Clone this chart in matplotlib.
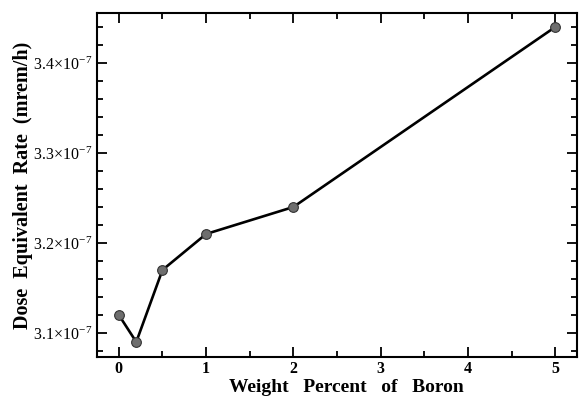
import matplotlib
matplotlib.use("Agg")
import matplotlib.pyplot as plt
from matplotlib.ticker import FixedLocator, MultipleLocator, FuncFormatter

plt.rcParams["font.family"] = "Liberation Serif"
plt.rcParams["mathtext.fontset"] = "custom"
plt.rcParams["mathtext.rm"] = "Liberation Serif"
plt.rcParams["mathtext.it"] = "Liberation Serif:italic"
plt.rcParams["mathtext.bf"] = "Liberation Serif:bold"

boron_pct = [0, 0.2, 0.5, 1, 2, 5]
dose_rate = [3.12e-7, 3.09e-7, 3.17e-7, 3.21e-7, 3.24e-7, 3.44e-7]
y_ticks = [3.1e-7, 3.2e-7, 3.3e-7, 3.4e-7]


def sci_label(v, pos):
    return r"$%.1f\!\times\!10^{-7}$" % (v / 1e-7)


fig = plt.figure(figsize=(5.8, 4.03), dpi=100, facecolor="white")
ax = fig.add_axes([97 / 580, 46 / 403, 480 / 580, 344 / 403])

ax.plot(boron_pct, dose_rate, color="black", lw=1.9, marker="o", ms=7,
        mfc="#6e6e6e", mec="#333333", mew=0.8)

ax.set_xlim(-0.25, 5.25)
ax.set_ylim(3.0733e-7, 3.4556e-7)

ax.xaxis.set_major_locator(MultipleLocator(1))
ax.xaxis.set_minor_locator(MultipleLocator(0.5))
ax.yaxis.set_major_locator(FixedLocator(y_ticks))
ax.yaxis.set_minor_locator(MultipleLocator(0.02e-7))
ax.yaxis.set_major_formatter(FuncFormatter(sci_label))
ax.yaxis.get_offset_text().set_visible(False)

ax.tick_params(which="both", direction="in", top=True, right=True,
               labelsize=11.5, width=1.3)
ax.tick_params(which="major", length=7)
ax.tick_params(which="minor", length=4)
ax.tick_params(axis="x", pad=3)
for lbl in ax.get_xticklabels():
    lbl.set_fontweight("bold")
for s in ax.spines.values():
    s.set_linewidth(1.5)

ax.set_xlabel("Weight   Percent   of   Boron", fontsize=14, fontweight="bold")
ax.xaxis.set_label_coords(0.52, -0.063)
ax.set_ylabel("Dose  Equivalent  Rate  (mrem/h)", fontsize=14.5,
              fontweight="bold", labelpad=0)

fig.savefig("out.png", dpi=100)
